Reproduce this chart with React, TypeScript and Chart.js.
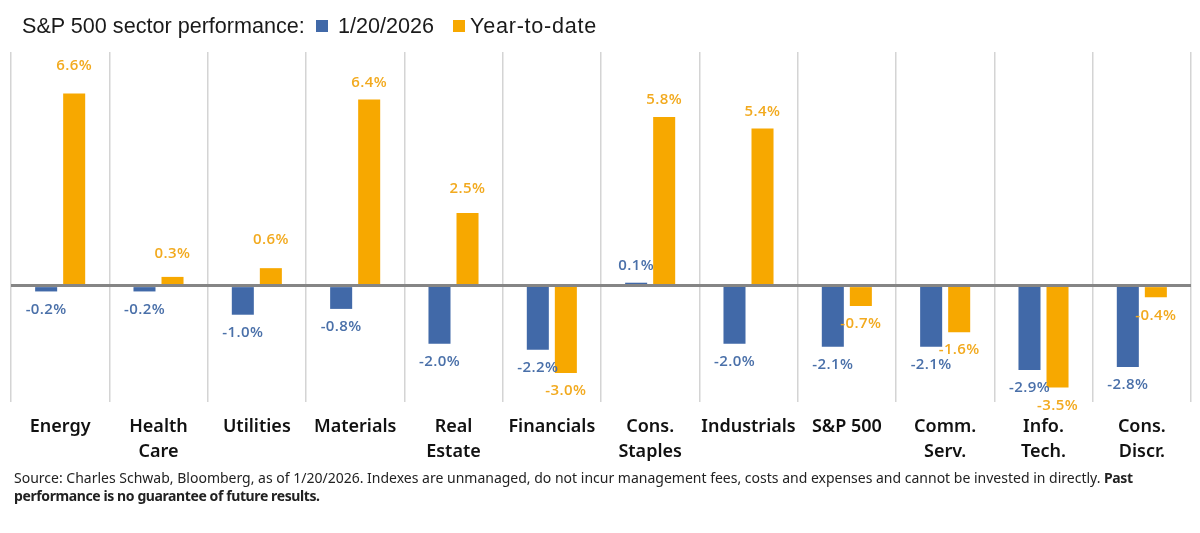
import React, { useEffect, useRef } from "react";
import { Chart, registerables } from "chart.js";

Chart.register(...registerables);

const sectors = [
    "Energy",
    ["Health", "Care"],
    "Utilities",
    "Materials",
    ["Real", "Estate"],
    "Financials",
    ["Cons.", "Staples"],
    "Industrials",
    "S&P 500",
    ["Comm.", "Serv."],
    ["Info.", "Tech."],
    ["Cons.", "Discr."],
];
const dayValues = [-0.2, -0.2, -1.0, -0.8, -2.0, -2.2, 0.1, -2.0, -2.1, -2.1, -2.9, -2.8];
const ytdValues = [6.6, 0.3, 0.6, 6.4, 2.5, -3.0, 5.8, 5.4, -0.7, -1.6, -3.5, -0.4];

const BLUE = "#4169a8";
const ORANGE = "#f7a800";
const LABEL_BLUE = "#4a70a9";
const LABEL_ORANGE = "#f2aa1f";

// the YTD labels that sit further above their bars in the original
const ytdLabelLift: Record<number, number> = { 0: 11, 1: 6, 2: 11, 4: 7 };

// Draws the value labels at the end of each bar
const barLabels = {
    id: "barLabels",
    afterDatasetsDraw: (chart: any) => {
        const ctx = chart.ctx;
        ctx.save();
        ctx.font = "600 15px 'Open Sans'";
        ctx.letterSpacing = "0.4px";
        ctx.textAlign = "center";
        ctx.textBaseline = "middle";
        chart.data.datasets.forEach((dataset: any, datasetIndex: number) => {
            const meta = chart.getDatasetMeta(datasetIndex);
            ctx.fillStyle = datasetIndex === 0 ? LABEL_BLUE : LABEL_ORANGE;
            meta.data.forEach((bar: any, index: number) => {
                const value = dataset.data[index];
                const lift = datasetIndex === 1 ? ytdLabelLift[index] || 0 : 0;
                const y = value < 0 ? bar.y + 18 : bar.y - 17 - lift;
                ctx.fillText(`${value.toFixed(1)}%`, bar.x, y);
            });
        });
        ctx.restore();
    },
};

const swatch: React.CSSProperties = { position: "absolute", top: 20, width: 12, height: 12 };
const headerText: React.CSSProperties = {
    position: "absolute",
    top: 12,
    fontFamily: "'Liberation Sans'",
    fontSize: 21.6,
    lineHeight: "28px",
    color: "#1a1a1a",
    whiteSpace: "nowrap",
};

const App: React.FC = () => {
    const chartRef = useRef<HTMLCanvasElement | null>(null);

    useEffect(() => {
        if (!chartRef.current) return;
        const chart = new Chart(chartRef.current, {
            type: "bar",
            data: {
                labels: sectors as any,
                datasets: [
                    { label: "1/20/2026", data: dayValues, backgroundColor: BLUE },
                    { label: "Year-to-date", data: ytdValues, backgroundColor: ORANGE },
                ],
            },
            options: {
                responsive: false,
                animation: false,
                layout: { padding: { left: 11, right: 9, top: 52, bottom: 0 } },
                datasets: { bar: { categoryPercentage: 0.57, barPercentage: 0.786 } },
                plugins: { legend: { display: false }, tooltip: { enabled: false } },
                scales: {
                    x: {
                        afterFit: (scale: any) => {
                            scale.height = 131;
                        },
                        grid: { color: "#d4d4d4", lineWidth: 1.5, drawTicks: false },
                        border: { display: false },
                        ticks: {
                            color: "#111111",
                            font: { family: "'Noto Sans'", size: 18, weight: 600, lineHeight: 1.35 },
                            padding: 13,
                            maxRotation: 0,
                            autoSkip: false,
                        },
                    },
                    y: {
                        min: -4,
                        max: 8.03,
                        afterFit: (scale: any) => {
                            scale.width = 0;
                        },
                        ticks: { display: false, stepSize: 4 },
                        border: { display: false },
                        grid: {
                            drawTicks: false,
                            color: (c: any) => (c.tick.value === 0 ? "#858585" : "transparent"),
                            lineWidth: (c: any) => (c.tick.value === 0 ? 3 : 0),
                            z: 1,
                        },
                    },
                },
            },
            plugins: [barLabels],
        } as any);
        return () => chart.destroy();
    }, []);

    return (
        <div style={{ position: "absolute", left: 0, top: 0, width: 1200, height: 533, background: "#fff", overflow: "hidden" }}>
            <canvas ref={chartRef} width={1200} height={533} style={{ position: "absolute", left: 0, top: 0 }} />
            <span style={{ ...headerText, left: 22 }}>S&amp;P 500 sector performance:</span>
            <span style={{ ...swatch, left: 316, background: BLUE }} />
            <span style={{ ...headerText, left: 338 }}>1/20/2026</span>
            <span style={{ ...swatch, left: 453, background: ORANGE }} />
            <span style={{ ...headerText, left: 470, letterSpacing: 0.75 }}>Year-to-date</span>
            <div
                style={{
                    position: "absolute",
                    left: 14,
                    top: 469,
                    fontFamily: "'Noto Sans'",
                    fontSize: 14,
                    lineHeight: "18px",
                    color: "#222222",
                    whiteSpace: "nowrap",
                }}
            >
                Source: Charles Schwab, Bloomberg, as of 1/20/2026. Indexes are unmanaged, do not incur management fees, costs and expenses and cannot be invested in directly. <b style={{ letterSpacing: -0.4 }}>Past</b>
                <br />
                <b style={{ letterSpacing: -0.4 }}>performance is no guarantee of future results.</b>
            </div>
        </div>
    );
};

export default App;
